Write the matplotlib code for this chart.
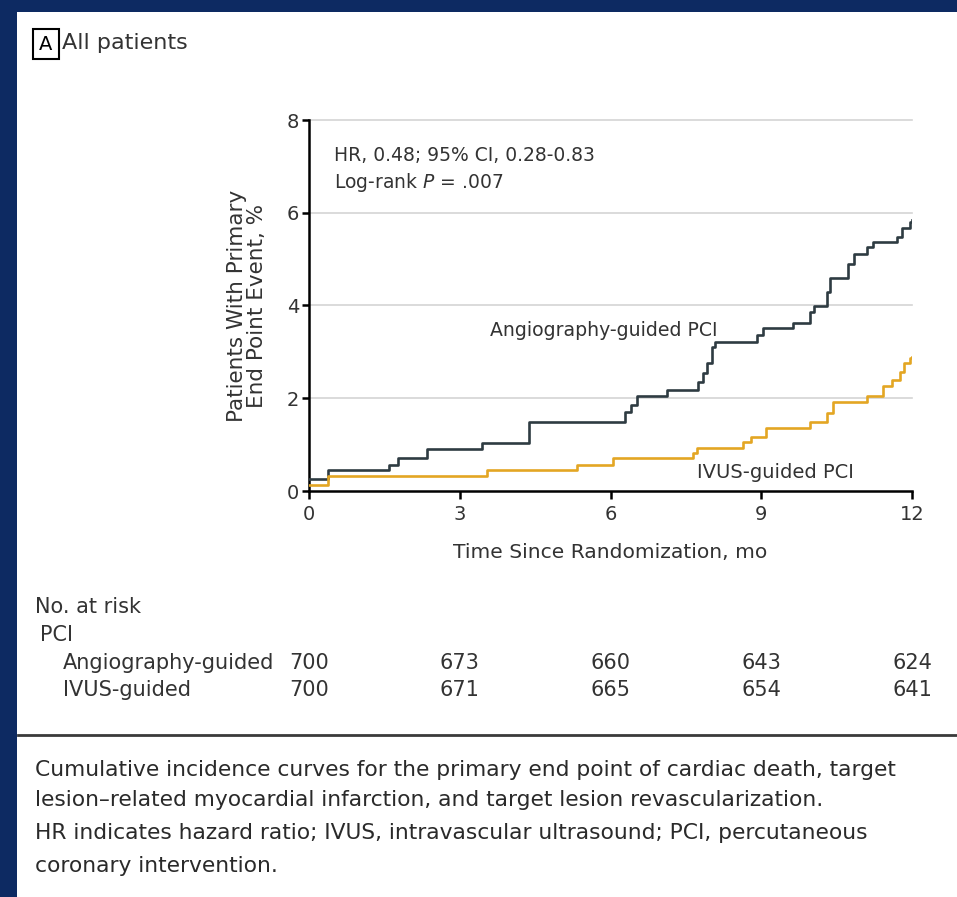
import numpy as np
import matplotlib
matplotlib.use("Agg")
import matplotlib.pyplot as plt
import matplotlib.transforms as mtransforms
from matplotlib.patches import Rectangle

plt.rcParams['font.family'] = ['DejaVu Sans']

# cumulative incidence, %
angio_t = [0, 0.38, 1.6, 1.77, 2.35, 3.44, 4.38, 6.29, 6.4, 6.53, 7.12, 7.74, 7.84, 7.92, 8.02, 8.08,
           8.92, 9.04, 9.63, 9.97, 10.05, 10.3, 10.37, 10.73, 10.85, 11.1, 11.23, 11.7, 11.8, 11.96, 12]
angio_v = [0.26, 0.45, 0.55, 0.71, 0.9, 1.03, 1.48, 1.7, 1.85, 2.05, 2.18, 2.35, 2.54, 2.76, 3.1, 3.21,
           3.36, 3.51, 3.63, 3.86, 3.98, 4.3, 4.6, 4.9, 5.12, 5.26, 5.37, 5.48, 5.67, 5.8, 5.85]
ivus_t = [0, 0.38, 3.54, 5.33, 6.05, 7.64, 7.72, 8.64, 8.8, 9.1, 9.97, 10.3, 10.43, 11.1, 11.42,
          11.6, 11.76, 11.85, 11.96, 12]
ivus_v = [0.12, 0.32, 0.45, 0.57, 0.72, 0.82, 0.93, 1.05, 1.16, 1.36, 1.49, 1.68, 1.92, 2.04, 2.26,
          2.39, 2.57, 2.75, 2.87, 2.9]

risk_times = [0, 3, 6, 9, 12]
risk_angio = [700, 673, 660, 643, 624]
risk_ivus = [700, 671, 665, 654, 641]

W, H = 957, 897
fig = plt.figure(figsize=(W / 100, H / 100), dpi=100)
fig.patch.set_facecolor('#0d2a62')
fig.add_artist(Rectangle((17 / W, 0), 1 - 17 / W, 1 - 12 / H, transform=fig.transFigure,
                         facecolor='white', edgecolor='none', zorder=-5))

def fx(px):
    return px / W

def fy(py):
    return 1 - py / H

ax = fig.add_axes([fx(309), fy(491), fx(912) - fx(309), fy(120) - fy(491)])
ax.set_facecolor('none')
txt = '#333333'

for g in [2, 4, 6, 8]:
    ax.axhline(g, color='#d4d4d4', lw=1.2, zorder=1, clip_on=False)

ax.step(angio_t, angio_v, where='post', color='#2e3b42', lw=1.9, zorder=3)
ax.step(ivus_t, ivus_v, where='post', color='#e3a623', lw=1.9, zorder=3)

ax.set_xlim(0, 12)
ax.set_ylim(0, 8)
ax.set_xticks(risk_times)
ax.set_yticks([0, 2, 4, 6, 8])
for s in ['top', 'right']:
    ax.spines[s].set_visible(False)
for s in ['left', 'bottom']:
    ax.spines[s].set_linewidth(1.8)
    ax.spines[s].set_color('black')
ax.tick_params(axis='both', direction='out', length=6, width=1.8, labelsize=14, labelcolor=txt, pad=4)
ax.tick_params(axis='y', length=5, pad=2)

ax.set_xlabel('Time Since Randomization, mo', fontsize=14.6, color=txt, labelpad=14)
ax.set_ylabel('Patients With Primary\nEnd Point Event, %', fontsize=15.5, color=txt, labelpad=14,
              linespacing=1.05)

ax.text(0.5, 7.24, 'HR, 0.48; 95% CI, 0.28-0.83', fontsize=13.5, color=txt, va='center')
ax.text(0.5, 6.66, 'Log-rank $\\it{P}$ = .007', fontsize=13.5, color=txt, va='center')
ax.text(3.6, 3.47, 'Angiography-guided PCI', fontsize=13.6, color=txt, va='center')
ax.text(7.72, 0.39, 'IVUS-guided PCI', fontsize=14, color=txt, va='center')

# panel header
fig.text(fx(46), fy(44), 'A', fontsize=14, color='black', ha='center', va='center',
         bbox=dict(boxstyle='square,pad=0.3', fc='white', ec='black', lw=1.5))
fig.text(fx(62), fy(43), 'All patients', fontsize=16, color=txt, va='center')

# number at risk table
fs_tab = 15
fig.text(fx(35), fy(607), 'No. at risk', fontsize=fs_tab, color=txt, va='center')
fig.text(fx(40), fy(635), 'PCI', fontsize=fs_tab, color=txt, va='center')
fig.text(fx(63), fy(663), 'Angiography-guided', fontsize=fs_tab, color=txt, va='center')
fig.text(fx(63), fy(690), 'IVUS-guided', fontsize=fs_tab, color=txt, va='center')
trans = mtransforms.blended_transform_factory(ax.transData, fig.transFigure)
for t, a, b in zip(risk_times, risk_angio, risk_ivus):
    fig.text(t, fy(663), str(a), fontsize=fs_tab, color=txt, ha='center', va='center', transform=trans)
    fig.text(t, fy(690), str(b), fontsize=fs_tab, color=txt, ha='center', va='center', transform=trans)

fig.add_artist(plt.Line2D([fx(18), 1], [fy(735), fy(735)], transform=fig.transFigure,
                          color='#3a3a3a', lw=2))

caption = ['Cumulative incidence curves for the primary end point of cardiac death, target',
           'lesion\u2013related myocardial infarction, and target lesion revascularization.',
           'HR indicates hazard ratio; IVUS, intravascular ultrasound; PCI, percutaneous',
           'coronary intervention.']
for line, py in zip(caption, [770, 800, 833, 866]):
    fig.text(fx(35), fy(py), line, fontsize=15.7, color='#2a2a2a', va='center')

fig.savefig('out.png', dpi=100, facecolor=fig.get_facecolor())
